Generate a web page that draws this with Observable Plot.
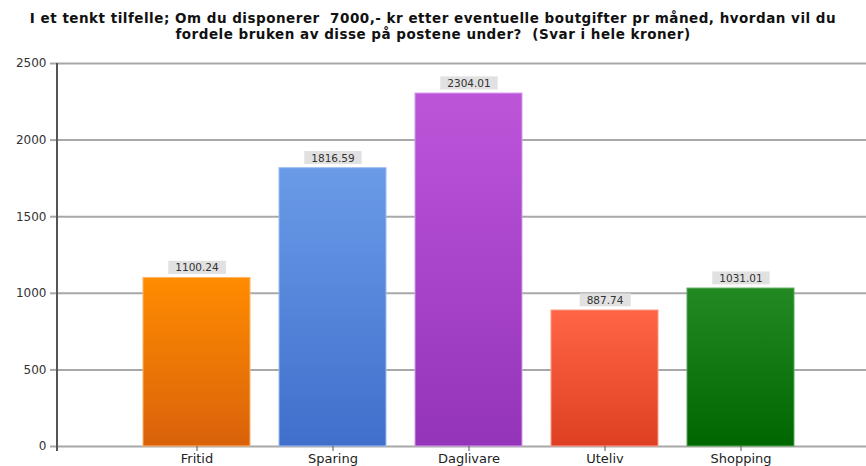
<!DOCTYPE html>
<html>
<head>
<meta charset="utf-8">
<script src="https://cdn.jsdelivr.net/npm/d3@7"></script>
<script src="https://cdn.jsdelivr.net/npm/@observablehq/plot@0.6"></script>
<style>
  html, body { margin: 0; padding: 0; background: #fff; }
  #wrap { width: 866px; height: 466px; position: relative; overflow: hidden; }
  #title { height: 50px; box-sizing: border-box; padding-top: 10px; text-align: center;
    font: bold 13.5px "DejaVu Sans", Verdana, sans-serif; letter-spacing: 0.5px; line-height: 16px; color: #111; white-space: pre-wrap; }
</style>
</head>
<body>
<div id="wrap">
<div id="title">I et tenkt tilfelle; Om du disponerer  7000,- kr etter eventuelle boutgifter pr måned, hvordan vil du
fordele bruken av disse på postene under?  (Svar i hele kroner)</div>
<div id="chart"></div>
</div>
<script>
const categories = ["Fritid", "Sparing", "Daglivare", "Uteliv", "Shopping"];
const values = [1100.24, 1816.59, 2304.01, 887.74, 1031.01];
const yTicks = [0, 500, 1000, 1500, 2000, 2500];
const topColors = ["#ff8c00", "#6a9be8", "#bd55d9", "#ff6545", "#238a23"];
const bottomColors = ["#d9620a", "#3f6fcb", "#9434b8", "#de3f22", "#006600"];
const edgeColors = ["#ffb46a", "#9bbcf0", "#d69aeb", "#ff9a85", "#5aa85a"];

const data = categories.map((c, i) => ({cat: c, value: values[i], i}));

// gradient defs
const defsSvg = d3.select("body").append("svg")
  .attr("width", 0).attr("height", 0)
  .style("position", "absolute").style("left", "0").style("top", "0");
const defs = defsSvg.append("defs");
categories.forEach((c, i) => {
  const g = defs.append("linearGradient").attr("id", "grad" + i)
    .attr("x1", 0).attr("y1", 0).attr("x2", 0).attr("y2", 1);
  g.append("stop").attr("offset", "0%").attr("stop-color", topColors[i]);
  g.append("stop").attr("offset", "100%").attr("stop-color", bottomColors[i]);
});

const yAxisLine = (index, scales, values, dims) => {
  const line = d3.create("svg:line")
    .attr("x1", dims.marginLeft).attr("x2", dims.marginLeft)
    .attr("y1", scales.y(2500)).attr("y2", scales.y(0) + 5)
    .attr("stroke", "#555").attr("stroke-width", 2);
  return line.node();
};

const font = "'DejaVu Sans', Verdana, sans-serif";

const plot = Plot.plot({
  width: 866,
  height: 416,
  marginLeft: 57,
  marginRight: 0,
  marginTop: 13,
  marginBottom: 20,
  style: {fontFamily: font, background: "#fff"},
  x: {domain: categories, range: [112, 826], padding: 0.2117, label: null},
  y: {domain: [0, 2500], label: null},
  marks: [
    Plot.gridY(yTicks, {stroke: "#a8a8a8", strokeWidth: 2, strokeOpacity: 1}),
    Plot.barY(data, {x: "cat", y: "value", fill: d => `url(#grad${d.i})`, stroke: d => edgeColors[d.i], strokeWidth: 1}),
    Plot.axisY(yTicks, {tickSize: 7, tickPadding: 4, stroke: "#a8a8a8", strokeWidth: 2, fontSize: 12, fill: "#333", tickFormat: d => String(d)}),
    Plot.axisX({tickSize: 5, tickPadding: 2, fontSize: 13, fill: "#222", stroke: "#555"}),
    yAxisLine,
    Plot.text(data, {x: "cat", y: "value", text: d => d.value.toFixed(2), dy: -10, fontSize: 10.5, fill: "#333"})
  ]
});
document.getElementById("chart").appendChild(plot);

// grey boxes behind value labels
const labelTexts = [];
d3.select(plot).selectAll("text").each(function() {
  if (values.map(v => v.toFixed(2)).includes(this.textContent)) labelTexts.push(this);
});
labelTexts.forEach(t => {
  const bb = t.getBBox();
  const r = d3.create("svg:rect")
    .attr("x", bb.x - 7).attr("y", bb.y - 0.5)
    .attr("width", bb.width + 14).attr("height", bb.height + 1)
    .attr("fill", "#e1e1e1");
  const tr = t.getAttribute("transform");
  if (tr) r.attr("transform", tr);
  t.parentNode.insertBefore(r.node(), t);
});
</script>
</body>
</html>
